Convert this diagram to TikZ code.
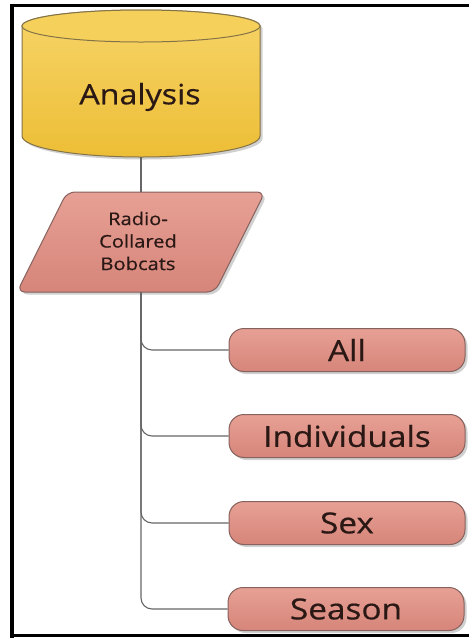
\documentclass[tikz,border=0pt]{standalone}
\usepackage{fontspec}
\setmainfont{Open Sans}[FakeStretch=1.15, FakeBold=0.6]
\usetikzlibrary{shadows}

\definecolor{goldTop}{HTML}{F7D468}
\definecolor{goldBot}{HTML}{EDBE36}
\definecolor{goldLid}{HTML}{F5D05A}
\definecolor{goldLine}{HTML}{857348}
\definecolor{roseTop}{HTML}{E7A095}
\definecolor{roseBot}{HTML}{D6857A}
\definecolor{roseLine}{HTML}{86615D}
\definecolor{inkText}{HTML}{2A1815}
\definecolor{wireGray}{HTML}{666666}

\tikzset{
  softshadow/.style={drop shadow={shadow xshift=2.5pt, shadow yshift=-2.5pt,
      opacity=.3, fill=black!60}},
  goldshape/.style={draw=goldLine, line width=1pt, top color=goldTop,
      bottom color=goldBot, softshadow},
  roseshape/.style={draw=roseLine, line width=1pt, top color=roseTop,
      bottom color=roseBot, softshadow},
  leafbox/.style={roseshape, rectangle, rounded corners=15pt,
      minimum width=236pt, minimum height=43pt, inner sep=0pt,
      text=inkText, font=\fontsize{29}{34}\selectfont},
  anchorbox/.style={inner sep=0pt, outer sep=0pt},
  conn/.style={draw=wireGray, line width=1.1pt, rounded corners=11pt},
  frameband/.style={fill=black},
}

\begin{document}
\begin{tikzpicture}[x=1pt, y=-1pt]
  \useasboundingbox (0,0) rectangle (469,638);
  \fill[white] (-3,-3) rectangle (472,641);

  % outer frame (top, left and bottom bands)
  \fill[frameband] (10,4) rectangle (472,7);
  \fill[frameband] (10,4) rectangle (14,641);
  \fill[frameband] (10,634) rectangle (472,637);

  % cylinder: body silhouette, then its lid
  \path[goldshape] (22,26) -- (22,136)
     arc[start angle=180, end angle=360, x radius=119pt, y radius=21pt]
     -- (260,26)
     arc[start angle=0, end angle=180, x radius=119pt, y radius=16pt]
     -- cycle;
  \draw[draw=goldLine, line width=1pt, fill=goldLid]
     (141,26) ellipse [x radius=119pt, y radius=16pt];
  \node[anchorbox, minimum width=238pt, minimum height=147pt] (cyl) at (141,83.5) {};
  \node[text=inkText, font=\fontsize{28}{32}\selectfont] (cyltext) at (140,97) {Analysis};

  % parallelogram
  \path[roseshape, rounded corners=8pt]
     (67,192) -- (265,192) -- (215,292) -- (17,292) -- cycle;
  \node[anchorbox, minimum width=150pt, minimum height=100pt] (para) at (141,242) {};
  \node[text=inkText, align=center, font=\fontsize{17.5}{22.5}\selectfont]
     (paratext) at (138,241) {Radio-\\Collared\\Bobcats};

  % leaf boxes
  \node[leafbox] (all)   at (347,350) {All};
  \node[leafbox] (indiv) at (347,436) {Individuals};
  \node[leafbox] (sex)   at (347,523) {Sex};
  \node[leafbox] (season) at (346,609) {Season};

  % connectors
  \draw[conn] (cyl.south) -- (para.north);
  \draw[conn] (para.south) |- (all.west);
  \draw[conn] (para.south) |- (indiv.west);
  \draw[conn] (para.south) |- (sex.west);
  \draw[conn] (para.south) |- (season.west);
\end{tikzpicture}
\end{document}
